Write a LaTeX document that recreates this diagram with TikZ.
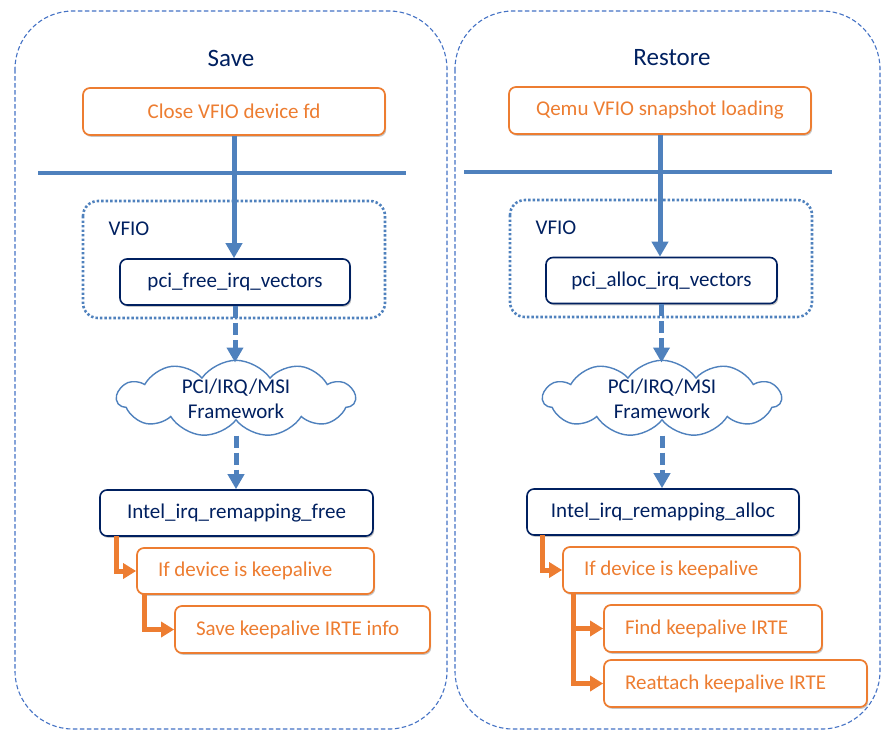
\documentclass[tikz,border=0pt]{standalone}
\usepackage{fontspec}
\setmainfont{Carlito}
\usetikzlibrary{arrows.meta,shapes.symbols,shadows,calc}
\definecolor{navy}{HTML}{002060}
\definecolor{orng}{HTML}{ED7D31}
\definecolor{steel}{HTML}{4F81BD}
\definecolor{panelblue}{HTML}{4472C4}
\tikzset{
  panel/.style={draw=panelblue, line width=1.1pt, dash pattern=on 4.5pt off 2.5pt, rounded corners=58pt},
  title/.style={text=navy, font=\fontsize{25}{30}\selectfont},
  boxshadow/.style={drop shadow={shadow xshift=1.2pt, shadow yshift=-1.8pt, opacity=.22, fill=black}},
  obox/.style={draw=orng, line width=1.7pt, rounded corners=7pt, fill=white, text=orng,
    font=\fontsize{21}{25}\selectfont, minimum height=47pt, inner sep=0pt, boxshadow},
  % orange step box with text set flush left
  lbox/.style={obox, inner xsep=21pt, align=flush left, text width=#1-42pt},
  nbox/.style={draw=navy, line width=1.6pt, rounded corners=7pt, fill=white, text=navy,
    font=\fontsize{21}{25}\selectfont, minimum height=46pt, inner sep=0pt, boxshadow},
  vfiobox/.style={draw=steel, line width=2.6pt, dash pattern=on 2.4pt off 2.1pt, rounded corners=15pt},
  vlabel/.style={text=navy, font=\fontsize{21}{25}\selectfont},
  sepline/.style={draw=steel, line width=4pt},
  cloudbox/.style={cloud, draw=steel, line width=1.4pt, fill=white, cloud puffs=11, cloud puff arc=110,
    cloud ignores aspect, minimum width=238pt, minimum height=73pt, inner sep=0pt, text=navy,
    align=center, font=\fontsize{21}{25}\selectfont},
  flow/.style={draw=steel, line width=5pt, -{Triangle[width=16pt,length=15pt]}},
  dflow/.style={flow, dash pattern=on 12pt off 5pt},
  oflow/.style={draw=orng, line width=5pt, -{Triangle[width=15pt,length=13pt]}}
}
\begin{document}
\begin{tikzpicture}[x=1pt,y=-1pt]
\useasboundingbox (0,0) rectangle (881,732);

% outer panels
\draw[panel] (15,11) rectangle (447,729);
\draw[panel] (455,11) rectangle (880,729);

% titles
\node[title] (saveT) at (231,58) {Save};
\node[title] (restT) at (672,58) {Restore};

% ---------------- Save side ----------------
\node[obox, minimum width=302pt] (closeL) at (234,111.5) {Close VFIO device fd};
\coordinate (sepL1) at (38,173);
\coordinate (sepL2) at (406,173);
\draw[sepline] (sepL1) -- (sepL2);
\draw[vfiobox] (83,201) rectangle (385,318);
\node[vlabel] (vfioL) at (129,229) {VFIO};
\node[nbox, minimum width=230pt] (pciL) at (235,282) {pci\_free\_irq\_vectors};
\node[cloudbox] (cloudL) at (236,398.5) {PCI/IRQ/MSI\\Framework};
\node[nbox, minimum width=273pt] (intelL) at (236.5,513) {Intel\_irq\_remapping\_free};
\node[lbox=237pt, minimum height=46pt] (ifL) at (255.5,571) {If device is keepalive};
\node[lbox=255pt] (saveL) at (302.5,629.5) {Save keepalive IRTE info};

\coordinate (cloudLtop) at ($(cloudL.center)+(0,-36)$);
\coordinate (cloudLbot) at ($(cloudL.center)+(0,37)$);
\draw[flow] (closeL.south) -- (closeL.south |- pciL.north);
\draw[dflow] (pciL.south) -- (pciL.south |- cloudLtop);
\draw[dflow] (cloudLbot) -- (cloudLbot |- intelL.north);
\draw[oflow] ($(intelL.south west)+(17,-1)$) |- (ifL.west);
\draw[oflow] ($(ifL.south west)+(8,-1)$) |- (saveL.west);

% ---------------- Restore side ----------------
\node[obox, minimum width=302pt] (qemuR) at (660,110.5) {Qemu VFIO snapshot loading};
\coordinate (sepR1) at (464,172);
\coordinate (sepR2) at (832,172);
\draw[sepline] (sepR1) -- (sepR2);
\draw[vfiobox] (510,200) rectangle (812,317);
\node[vlabel] (vfioR) at (556,228) {VFIO};
\node[nbox, minimum width=231pt] (pciR) at (661.5,280.5) {pci\_alloc\_irq\_vectors};
\node[cloudbox] (cloudR) at (662,398.5) {PCI/IRQ/MSI\\Framework};
\node[nbox, minimum width=272pt] (intelR) at (663,512) {Intel\_irq\_remapping\_alloc};
\node[lbox=237pt, minimum height=46pt] (ifR) at (681.5,570) {If device is keepalive};
\node[lbox=218pt] (findR) at (713,628.5) {Find keepalive IRTE};
\node[lbox=263pt] (reatR) at (735.5,683.5) {Reattach keepalive IRTE};

\coordinate (cloudRtop) at ($(cloudR.center)+(0,-36)$);
\coordinate (cloudRbot) at ($(cloudR.center)+(0,37)$);
\draw[flow] (qemuR.south) -- (qemuR.south |- pciR.north);
\draw[dflow] (pciR.south) -- (pciR.south |- cloudRtop);
\draw[dflow] (cloudRbot) -- (cloudRbot |- intelR.north);
\draw[oflow] ($(intelR.south west)+(16,-1)$) |- (ifR.west);
\draw[oflow] ($(ifR.south west)+(11,-1)$) |- (findR.west);
\draw[oflow] ($(ifR.south west)+(11,-1)$) |- (reatR.west);
\end{tikzpicture}
\end{document}
